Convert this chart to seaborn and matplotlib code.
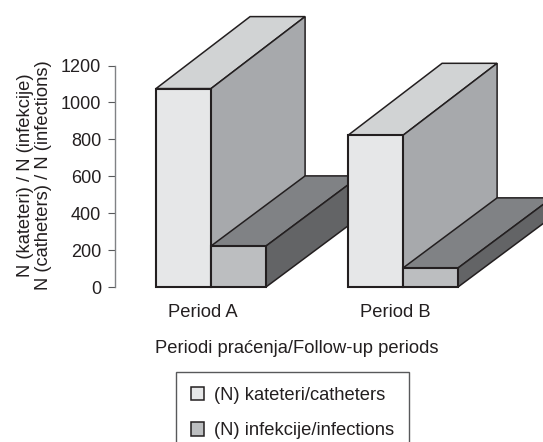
import pandas as pd
import matplotlib
matplotlib.use('Agg')
import matplotlib.pyplot as plt
import matplotlib.transforms as mtrans
from matplotlib.patches import Patch, Polygon
import seaborn as sns

# Datos
periods = ['Period A', 'Period B']
catheters = [1075, 822]
infections = [222, 103]
series_names = ['(N) kateteri/catheters', '(N) infekcije/infections']

front_colors = ['#e6e7e8', '#bcbec0']
top_colors = ['#d1d3d4', '#808285']
side_colors = ['#a7a9ac', '#636466']
line_color = '#231f20'

df = pd.DataFrame({
    'period': periods * 2,
    'n': catheters + infections,
    'serie': [series_names[0]] * 2 + [series_names[1]] * 2,
})

sns.set_style('white')
plt.rcParams['font.family'] = ['Liberation Sans', 'DejaVu Sans']
plt.rcParams['text.color'] = line_color

W, H = 543, 442
fig = plt.figure(figsize=(W / 100, H / 100), dpi=100)
ax = fig.add_axes([115 / W, (H - 287) / H, 428 / W, 287 / H])
ax.patch.set_alpha(0)

sns.barplot(data=df, x='period', y='n', hue='serie', palette=front_colors,
            width=0.573, gap=0, saturation=1, edgecolor=line_color, linewidth=1.5,
            legend=False, ax=ax)
ax.set_xlim(-0.5, 1.729)
ax.set_ylim(0, 1555)

# Profundidad del efecto 3D, en unidades de los ejes
depth_x = 0.49
depth_y = [390, 380]


def add_face(points, color, z):
    ax.add_patch(Polygon(points, closed=True, facecolor=color, edgecolor=line_color,
                         linewidth=1.1, joinstyle='miter', zorder=z))


# Cada grupo tapa al anterior; dentro del grupo primero el bloque alto
bars = list(ax.patches)
for i, bar in enumerate(bars):
    x0, x1 = bar.get_x(), bar.get_x() + bar.get_width()
    h = bar.get_height()
    s = 0 if i < 2 else 1
    g = i if i < 2 else i - 2
    z = 3 + g * 5 + s * 2
    d = depth_y[s]
    add_face([(x0, h), (x1, h), (x1 + depth_x, h + d), (x0 + depth_x, h + d)],
             top_colors[s], z)
    add_face([(x1, 0), (x1, h), (x1 + depth_x, h + d), (x1 + depth_x, d)],
             side_colors[s], z)
    bar.set_zorder(z + 1)
    bar.set_clip_on(False)

ax.set_yticks(range(0, 1201, 200))
ax.tick_params(axis='y', left=True, length=5, width=0.8, color='#58595b',
               labelsize=13, pad=5, labelcolor=line_color)
ax.tick_params(axis='x', bottom=False, labelsize=13.2, pad=9, labelcolor=line_color)

# Las etiquetas de periodo van algo a la izquierda del centro del grupo
shift = mtrans.ScaledTranslation(-8 / 100, 0, fig.dpi_scale_trans)
for label in ax.get_xticklabels():
    label.set_transform(label.get_transform() + shift)

sns.despine(ax=ax, top=True, right=True, bottom=True)
ax.spines['left'].set_bounds(0, 1200)
ax.spines['left'].set_color('#808285')
ax.spines['left'].set_linewidth(1.0)

ax.set_ylabel('N (kateteri) / N (infekcije)\nN (catheters) / N (infections)',
              fontsize=13.2, linespacing=1.1, color=line_color)
ax.yaxis.set_label_coords(-0.147, 0.39)
ax.set_xlabel('Periodi praćenja/Follow-up periods', fontsize=13.2, color=line_color)
ax.xaxis.set_label_coords((297 - 115) / 428, -(340 - 287) / 287)
ax.xaxis.label.set_va('top')

handles = [Patch(facecolor=c, edgecolor=line_color, linewidth=1.1) for c in front_colors]
fig.legend(handles, series_names, loc='upper left',
           bbox_to_anchor=(176 / W, (H - 372) / H), fontsize=13.2,
           frameon=True, fancybox=False, framealpha=1, edgecolor='#58595b',
           handlelength=0.75, handleheight=0.75, handletextpad=0.55,
           labelspacing=1.0, borderpad=0.8, borderaxespad=0)

fig.savefig('out.png', dpi=100)
